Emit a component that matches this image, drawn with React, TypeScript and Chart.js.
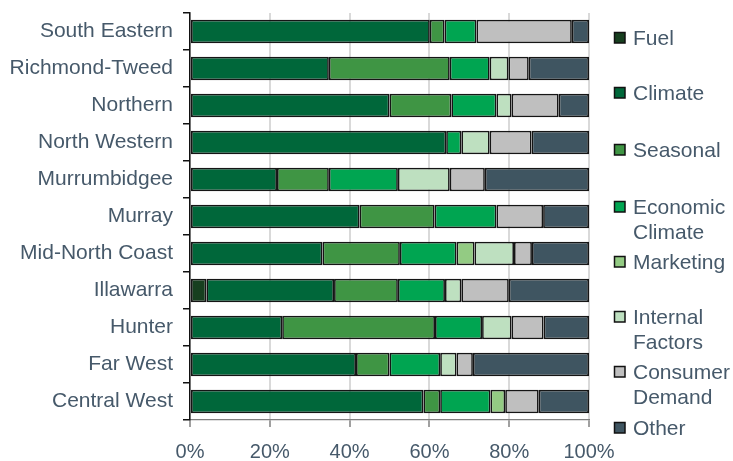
import React, { useEffect, useRef } from "react";
import { Chart, registerables } from "chart.js";

Chart.register(...registerables);

const regions = [
  "South Eastern",
  "Richmond-Tweed",
  "Northern",
  "North Western",
  "Murrumbidgee",
  "Murray",
  "Mid-North Coast",
  "Illawarra",
  "Hunter",
  "Far West",
  "Central West",
];

const fuel = [0, 0, 0, 0, 0, 0, 0, 4.1, 0, 0, 0];
const climate = [60.1, 34.8, 50.0, 64.2, 21.8, 42.5, 33.2, 32.0, 23.1, 41.6, 58.5];
const seasonal = [3.7, 30.3, 15.5, 0, 13.0, 18.8, 19.4, 16.0, 38.3, 8.4, 4.2];
const economicClimate = [8.0, 10.0, 11.3, 3.8, 17.3, 15.5, 14.2, 11.8, 11.8, 12.7, 12.6];
const marketing = [0, 0, 0, 0, 0, 0, 4.5, 0, 0, 0, 3.7];
const internalFactors = [0, 4.7, 3.8, 7.1, 13.0, 0, 9.9, 4.1, 7.4, 4.1, 0];
const consumerDemand = [23.9, 5.1, 11.8, 10.5, 8.8, 11.7, 4.5, 11.9, 8.0, 4.1, 8.4];
const other = [4.3, 15.1, 7.6, 14.4, 26.1, 11.5, 14.3, 20.1, 11.4, 29.1, 12.6];

const xTicks = [0, 20, 40, 60, 80, 100];

const seriesNames = [
  "Fuel",
  "Climate",
  "Seasonal",
  "Economic Climate",
  "Marketing",
  "Internal Factors",
  "Consumer Demand",
  "Other",
];
const legendLines = [
  ["Fuel"],
  ["Climate"],
  ["Seasonal"],
  ["Economic", "Climate"],
  ["Marketing"],
  ["Internal", "Factors"],
  ["Consumer", "Demand"],
  ["Other"],
];
const seriesValues = [
  fuel,
  climate,
  seasonal,
  economicClimate,
  marketing,
  internalFactors,
  consumerDemand,
  other,
];
const seriesColors = [
  "#173F1F",
  "#00673A",
  "#3F9544",
  "#00A551",
  "#93CB83",
  "#BEE0C0",
  "#BFBFBF",
  "#3F5561",
];

const TEXT = "#46596A";
const FONT = "'Liberation Sans', Arial, sans-serif";

// y positions (px, text centre of first line) of the legend entries
const legendY = [38, 93, 150, 207, 262, 317, 372, 428];

const legendPlugin = {
  id: "sideLegend",
  afterDraw(chart: any) {
    const ctx = chart.ctx;
    ctx.save();
    ctx.font = `21px ${FONT}`;
    ctx.textBaseline = "middle";
    ctx.textAlign = "left";
    const boxX = 614;
    const textX = 633;
    chart.data.datasets.forEach((ds: any, i: number) => {
      const y = legendY[i];
      ctx.fillStyle = ds.backgroundColor;
      ctx.fillRect(boxX, y - 6, 11, 11);
      ctx.lineWidth = 1.5;
      ctx.strokeStyle = "#111";
      ctx.strokeRect(boxX + 0.5, y - 5.5, 10.5, 10.5);
      ctx.fillStyle = TEXT;
      legendLines[i].forEach((line, j) => {
        ctx.fillText(line, textX, y + 1 + j * 25.5);
      });
    });
    ctx.restore();
  },
};

export default function App() {
  const ref = useRef<HTMLCanvasElement | null>(null);

  useEffect(() => {
    document.body.style.margin = "0";
    if (!ref.current) return;
    const chart = new Chart(ref.current, {
      type: "bar",
      data: {
        labels: regions,
        datasets: seriesNames.map((name, i) => ({
          label: name,
          data: seriesValues[i].map((v) => (v === 0 ? null : v)),
          backgroundColor: seriesColors[i],
          borderColor: "#151515",
          borderWidth: 1.7,
          borderSkipped: false,
          barPercentage: 0.63,
          categoryPercentage: 1,
        })),
      },
      options: {
        indexAxis: "y",
        responsive: false,
        animation: false,
        devicePixelRatio: 1,
        layout: { padding: { left: 8, right: 144, top: 13, bottom: 0 } },
        plugins: {
          legend: { display: false },
          tooltip: { enabled: false },
        },
        scales: {
          x: {
            stacked: true,
            min: 0,
            max: 100,
            afterBuildTicks: (scale: any) => {
              scale.ticks = xTicks.map((v) => ({ value: v }));
            },
            afterFit: (scale: any) => {
              scale.height = 41;
            },
            ticks: {
              callback: (v: any) => `${v}%`,
              color: TEXT,
              font: { family: FONT, size: 20 },
              padding: 13,
              maxRotation: 0,
            },
            grid: {
              color: "#D9D9D9",
              lineWidth: 2,
              tickColor: "#808080",
              tickLength: 7,
              tickWidth: 1.5,
            },
            border: { display: true, color: "#808080", width: 1.2 },
          },
          y: {
            stacked: true,
            afterFit: (scale: any) => {
              scale.width = 182;
              scale.paddingTop = 0;
              scale.paddingBottom = 0;
            },
            ticks: {
              color: TEXT,
              font: { family: FONT, size: 21 },
              padding: 10,
            },
            grid: {
              offset: true,
              drawOnChartArea: false,
              color: "#111",
              tickLength: 7,
              lineWidth: 1.5,
            },
            border: { display: true, color: "#111", width: 1.5 },
          },
        },
      },
      plugins: [legendPlugin],
    } as any);
    return () => chart.destroy();
  }, []);

  return (
    <div style={{ width: 733, height: 461 }}>
      <canvas ref={ref} width={733} height={461} style={{ display: "block" }} />
    </div>
  );
}
